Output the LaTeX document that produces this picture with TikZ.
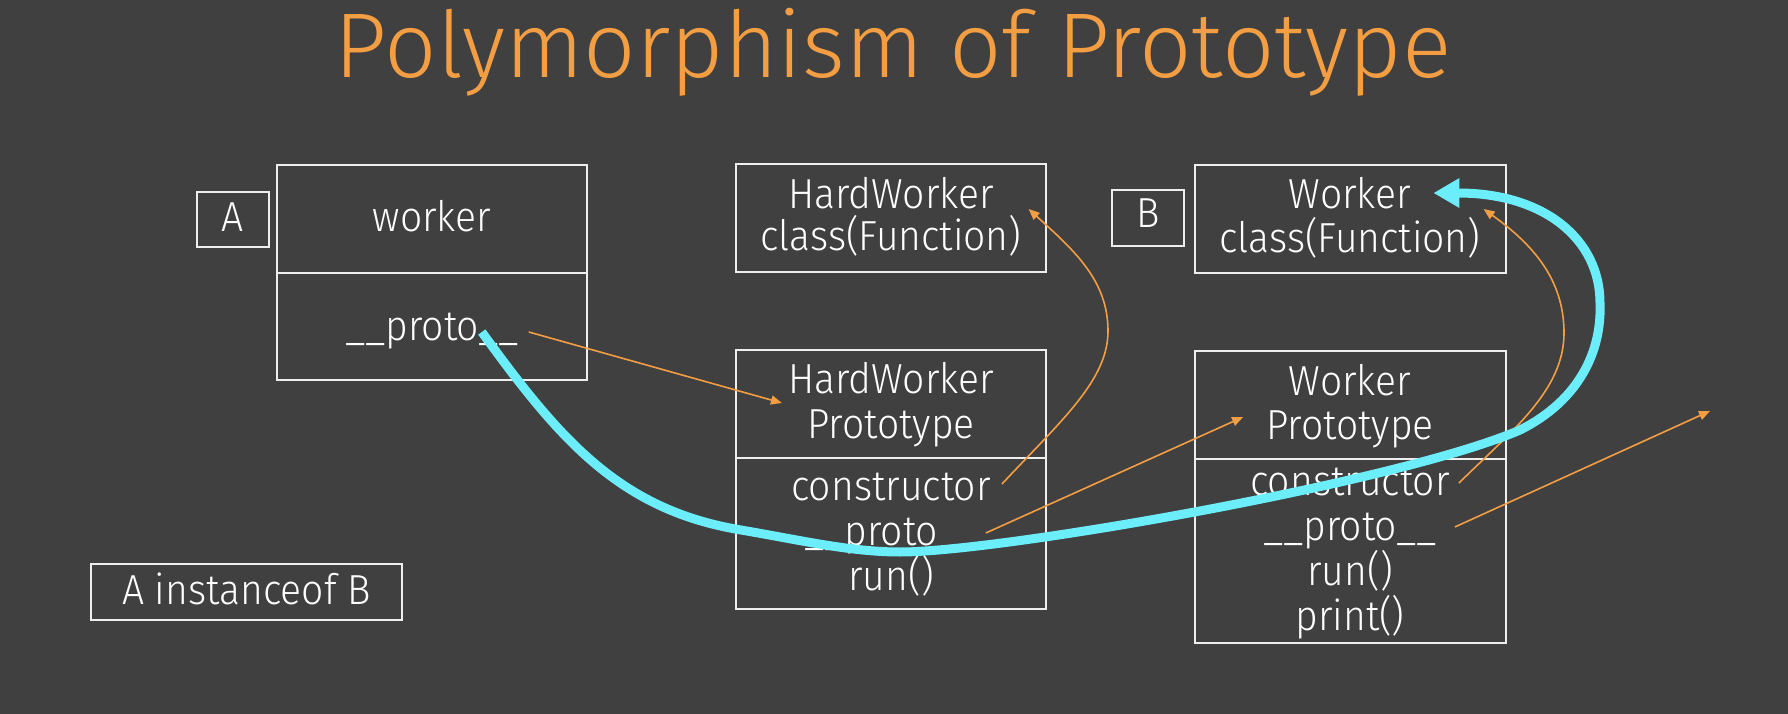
\documentclass[tikz,border=0pt]{standalone}
\usepackage{fontspec}
\IfFontExistsTF{Fira Sans Light}{\setmainfont{Fira Sans Light}\newfontfamily\boxfont{Fira Sans Light}[FakeStretch=0.93]}{%
  \setmainfont{Open Sans}\newfontfamily\boxfont{Open Sans}[FakeStretch=0.93]}
\usetikzlibrary{arrows.meta}
\definecolor{bgc}{RGB}{64,64,64}
\definecolor{orng}{RGB}{244,158,68}
\definecolor{cyn}{RGB}{108,238,250}
\definecolor{lnc}{RGB}{238,238,238}
\begin{document}
\begin{tikzpicture}[x=1pt,y=-1pt,
  box/.style={draw=lnc,line width=2pt,inner sep=0pt,outer sep=0pt,rectangle},
  txt/.style={text=white,font=\boxfont\fontsize{42}{50}\selectfont,anchor=base,inner sep=0pt},
  oarr/.style={draw=orng,line width=1.6pt,-{Triangle[length=11pt,width=9pt]}},
  carr/.style={draw=cyn,line width=9pt,-{Triangle[length=26pt,width=28pt]}}]
\fill[bgc] (0,0) rectangle (1788,714);
\useasboundingbox (0,0) rectangle (1788,714);
% title
\node[anchor=base,inner sep=0pt,text=orng,font=\fontsize{92}{110}\selectfont] (title) at (893,78) {Polymorphism of Prototype};
% boxes
\node[box,minimum width=72pt,minimum height=55pt] (bA) at (233,219.5) {};
\node[box,minimum width=310pt,minimum height=108pt] (bwtop) at (432,219) {};
\node[box,minimum width=310pt,minimum height=107pt] (bwbot) at (432,326.5) {};
\node[box,minimum width=310pt,minimum height=108pt] (bhc) at (891,218) {};
\node[box,minimum width=310pt,minimum height=108pt] (bhptop) at (891,404) {};
\node[box,minimum width=310pt,minimum height=151pt] (bhpbot) at (891,533.5) {};
\node[box,minimum width=72pt,minimum height=56pt] (bB) at (1148,218) {};
\node[box,minimum width=311pt,minimum height=108pt] (bwc) at (1350,219) {};
\node[box,minimum width=311pt,minimum height=108pt] (bwptop) at (1350,405) {};
\node[box,minimum width=311pt,minimum height=184pt] (bwpbot) at (1350,551) {};
\node[box,minimum width=311pt,minimum height=56pt] (binst) at (246.5,592) {};
% texts
\node[txt] (tA) at (233,232) {A};
\node[txt] (tworker) at (432,232) {worker};
\node[txt] (twproto) at (432,340) {\_\_proto\_\_};
\node[txt] (thc1) at (891,208) {HardWorker};
\node[txt] (thc2) at (891,250) {class(Function)};
\node[txt] (thp1) at (891,393) {HardWorker};
\node[txt] (thp2) at (891,438) {Prototype};
\node[txt] (thp3) at (891,500) {constructor};
\node[txt] (thp4) at (891,545) {\_\_proto\_\_};
\node[txt] (thp5) at (891,590) {run()};
\node[txt] (tB) at (1148,228) {B};
\node[txt] (twc1) at (1350,208) {Worker};
\node[txt] (twc2) at (1350,252) {class(Function)};
\node[txt] (twp1) at (1350,395) {Worker};
\node[txt] (twp2) at (1350,439) {Prototype};
\node[txt] (twp3) at (1350,495) {constructor};
\node[txt] (twp4) at (1350,540) {\_\_proto\_\_};
\node[txt] (twp5) at (1350,585) {run()};
\node[txt] (twp6) at (1350,630) {print()};
\node[txt] (tinst) at (246.5,604) {A instanceof B};
% helper coordinates
\coordinate (hbend) at (1108,331);
\coordinate (wbend) at (1564,333);
\coordinate (objend) at (1710,411);
% orange connectors
\draw[oarr] ([xshift=10pt,yshift=8pt]twproto.base east) -- ([xshift=-6pt,yshift=-10pt]thp1.base west);
\draw[oarr] ([xshift=11pt,yshift=16pt]thp3.base east) .. controls +(60,-64) and +(0,49) .. (hbend)
  .. controls +(0,-51) and +(45,41) .. ([xshift=7pt,yshift=41pt]thc2.base east);
\draw[oarr] ([xshift=8pt,yshift=12pt]thp4.base east) -- ([xshift=-23pt,yshift=22pt]twp2.base west);
\draw[oarr] ([xshift=9pt,yshift=12pt]twp3.base east) .. controls +(54,-53) and +(0,57) .. (wbend)
  .. controls +(0,-53) and +(50,36) .. ([xshift=3pt,yshift=43pt]twc2.base east);
\draw[oarr] ([xshift=18pt,yshift=13pt]twp4.base east) -- (objend);
% cyan connector
\draw[carr] ([xshift=-37pt,yshift=8pt]twproto.base east)
  .. controls (560,440) and (620,510) .. (741,530)
  .. controls (800,540) and (850,552) .. (900,552)
  .. controls (1000,552) and (1400,482) .. (1520,430)
  .. controls (1580,400) and (1602,350) .. (1600,303)
  .. controls (1600,240) and (1545,193) .. ([xshift=22pt,yshift=15pt]twc1.base east);
\end{tikzpicture}
\end{document}
